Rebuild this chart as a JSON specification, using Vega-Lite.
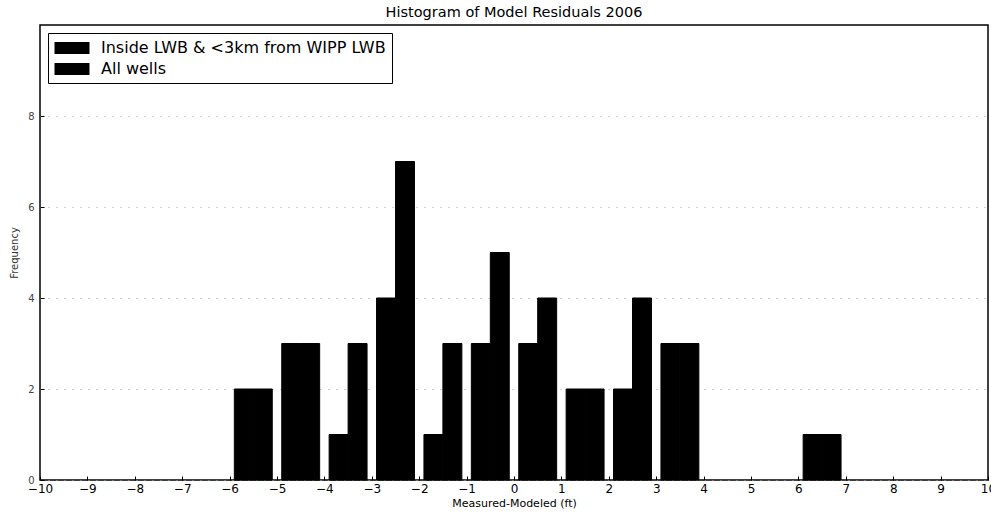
{
  "$schema": "https://vega.github.io/schema/vega-lite/v6.json",
  "width": 948,
  "height": 455,
  "autosize": "none",
  "padding": {"left": 40, "top": 25, "right": 3, "bottom": 33},
  "background": "white",
  "title": {
    "text": "Histogram of Model Residuals 2006",
    "fontSize": 14.5,
    "fontWeight": "normal",
    "font": "DejaVu Sans",
    "color": "black",
    "anchor": "middle",
    "offset": 5
  },
  "config": {
    "font": "DejaVu Sans",
    "view": {"stroke": "black", "strokeWidth": 1.5}
  },
  "data": {
    "values": [
      {"bin": -6, "series": "Inside LWB & <3km from WIPP LWB", "idx": 0, "count": 2},
      {"bin": -6, "series": "All wells", "idx": 1, "count": 2},
      {"bin": -5, "series": "Inside LWB & <3km from WIPP LWB", "idx": 0, "count": 3},
      {"bin": -5, "series": "All wells", "idx": 1, "count": 3},
      {"bin": -4, "series": "Inside LWB & <3km from WIPP LWB", "idx": 0, "count": 1},
      {"bin": -4, "series": "All wells", "idx": 1, "count": 3},
      {"bin": -3, "series": "Inside LWB & <3km from WIPP LWB", "idx": 0, "count": 4},
      {"bin": -3, "series": "All wells", "idx": 1, "count": 7},
      {"bin": -2, "series": "Inside LWB & <3km from WIPP LWB", "idx": 0, "count": 1},
      {"bin": -2, "series": "All wells", "idx": 1, "count": 3},
      {"bin": -1, "series": "Inside LWB & <3km from WIPP LWB", "idx": 0, "count": 3},
      {"bin": -1, "series": "All wells", "idx": 1, "count": 5},
      {"bin": 0, "series": "Inside LWB & <3km from WIPP LWB", "idx": 0, "count": 3},
      {"bin": 0, "series": "All wells", "idx": 1, "count": 4},
      {"bin": 1, "series": "Inside LWB & <3km from WIPP LWB", "idx": 0, "count": 2},
      {"bin": 1, "series": "All wells", "idx": 1, "count": 2},
      {"bin": 2, "series": "Inside LWB & <3km from WIPP LWB", "idx": 0, "count": 2},
      {"bin": 2, "series": "All wells", "idx": 1, "count": 4},
      {"bin": 3, "series": "Inside LWB & <3km from WIPP LWB", "idx": 0, "count": 3},
      {"bin": 3, "series": "All wells", "idx": 1, "count": 3},
      {"bin": 6, "series": "Inside LWB & <3km from WIPP LWB", "idx": 0, "count": 1},
      {"bin": 6, "series": "All wells", "idx": 1, "count": 1}
    ]
  },
  "transform": [
    {"calculate": "datum.bin + 0.1 + 0.4 * datum.idx", "as": "x0"},
    {"calculate": "datum.x0 + 0.4", "as": "x1"}
  ],
  "mark": {"type": "bar", "stroke": "black", "strokeWidth": 1},
  "encoding": {
    "x": {
      "field": "x0",
      "type": "quantitative",
      "scale": {"domain": [-10, 10], "nice": false, "zero": false},
      "axis": {
        "values": [-10, -9, -8, -7, -6, -5, -4, -3, -2, -1, 0, 1, 2, 3, 4, 5, 6, 7, 8, 9, 10],
        "labelExpr": "replace(datum.label, '-', '−')",
        "title": "Measured-Modeled (ft)",
        "titleFontSize": 11,
        "titleFontWeight": "normal",
        "titleColor": "black",
        "titlePadding": 3,
        "labelFontSize": 12,
        "labelColor": "black",
        "labelPadding": 7,
        "tickSize": -4,
        "tickColor": "black",
        "domain": false,
        "grid": false,
        "labelFlush": false
      }
    },
    "x2": {"field": "x1"},
    "y": {
      "field": "count",
      "type": "quantitative",
      "scale": {"domain": [0, 10], "nice": false},
      "axis": {
        "values": [0, 2, 4, 6, 8],
        "title": "Frequency",
        "titleFontSize": 10,
        "titleFontWeight": "normal",
        "titleColor": "#333",
        "titlePadding": 8,
        "labelFontSize": 10,
        "labelColor": "#444",
        "labelPadding": 10,
        "tickSize": -4,
        "tickColor": "black",
        "domain": false,
        "grid": true,
        "gridColor": "#aaa",
        "gridDash": [1, 7],
        "gridWidth": 1
      }
    },
    "y2": {"datum": 0},
    "color": {
      "field": "series",
      "type": "nominal",
      "sort": ["Inside LWB & <3km from WIPP LWB", "All wells"],
      "scale": {"range": ["black", "black"]},
      "legend": {
        "title": null,
        "orient": "top-left",
        "offset": 8,
        "symbolType": "M-2,-0.7H2V0.7H-2Z",
        "symbolSize": 306,
        "symbolStrokeWidth": 0,
        "symbolOffset": 9,
        "labelFontSize": 16,
        "labelColor": "black",
        "labelLimit": 400,
        "labelOffset": 20,
        "rowPadding": 4,
        "strokeColor": "black",
        "fillColor": "white",
        "padding": 6,
        "cornerRadius": 0
      }
    }
  }
}
